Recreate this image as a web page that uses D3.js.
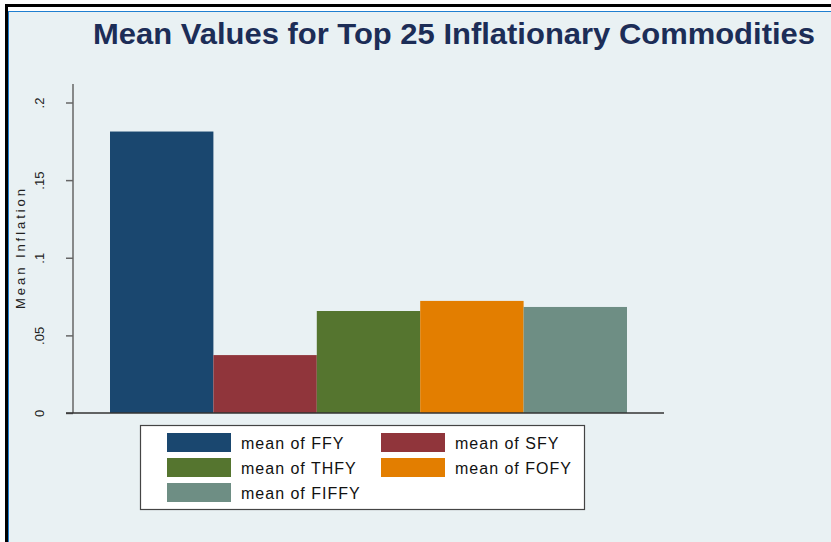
<!DOCTYPE html>
<html><head><meta charset="utf-8">
<script src="https://cdn.jsdelivr.net/npm/d3@7/dist/d3.min.js"></script>
<style>body{margin:0;background:#fff}svg{display:block}</style>
</head><body><svg id="c" width="831" height="542"></svg>
<script>
const series = ["mean of FFY","mean of SFY","mean of THFY","mean of FOFY","mean of FIFFY"];
const values = [0.1813, 0.0373, 0.0657, 0.0722, 0.0683];
const colors = ["#1a476f","#90353b","#55752f","#e37e00","#6e8e84"];
const yTicks = [0, 0.05, 0.1, 0.15, 0.2];
const yTickLabels = ["0", ".05", ".1", ".15", ".2"];
const title = "Mean Values for Top 25 Inflationary Commodities";
const yTitle = "Mean Inflation";

const svg = d3.select("#c");
// frame
svg.append("rect").attr("x",0).attr("y",0).attr("width",831).attr("height",542).attr("fill","#fff");
svg.append("rect").attr("x",5).attr("y",4).attr("width",826).attr("height",538).attr("fill","#000");
svg.append("rect").attr("x",8).attr("y",7).attr("width",823).attr("height",535).attr("fill","#fff");
svg.append("rect").attr("x",8).attr("y",11).attr("width",823).attr("height",531).attr("fill","#1f7fd0");
svg.append("rect").attr("x",9).attr("y",12).attr("width",822).attr("height",530).attr("fill","#e9f1f3");

svg.append("text").attr("x",454).attr("y",44).attr("text-anchor","middle")
  .attr("font-family","Liberation Sans, Arial, sans-serif").attr("font-weight","bold")
  .attr("font-size",30).attr("fill","#1c2d57")
  .attr("textLength",722).attr("lengthAdjust","spacingAndGlyphs").text(title);

const y = d3.scaleLinear().domain([0,0.2]).range([413,102.5]);
const x = d3.scaleBand().domain(series).range([110,627]).paddingInner(0).paddingOuter(0);

svg.selectAll("rect.bar").data(values).join("rect").attr("class","bar")
  .attr("x",(d,i)=>x(series[i])).attr("width",x.bandwidth())
  .attr("y",d=>y(d)).attr("height",d=>y(0)-y(d)).attr("fill",(d,i)=>colors[i]);

// y axis
const ax = svg.append("g").attr("transform","translate(73,0)")
  .call(d3.axisLeft(y).tickValues(yTicks).tickFormat((d,i)=>yTickLabels[i]).tickSize(7).tickPadding(0));
ax.select(".domain").remove();
ax.selectAll(".tick line").attr("stroke","#666").attr("stroke-width",1.5);
ax.selectAll(".tick text").attr("font-family","Liberation Sans, Arial, sans-serif").attr("font-size",13)
  .attr("fill","#222").attr("text-anchor","middle")
  .attr("transform","translate(-34,0) rotate(-90)").attr("x",0).attr("dy","0.35em");
svg.append("line").attr("x1",73).attr("x2",73).attr("y1",84).attr("y2",413).attr("stroke","#666").attr("stroke-width",1.5);
svg.append("line").attr("x1",66).attr("x2",664).attr("y1",413).attr("y2",413).attr("stroke","#333").attr("stroke-width",1.5);

svg.append("text").attr("transform","translate(25,249) rotate(-90)").attr("text-anchor","middle")
  .attr("font-family","Liberation Sans, Arial, sans-serif").attr("font-size",13).attr("fill","#222")
  .attr("textLength",120).attr("lengthAdjust","spacing").text(yTitle);

// legend
svg.append("rect").attr("x",140.5).attr("y",425.5).attr("width",444).attr("height",84).attr("fill","#fff").attr("stroke","#444").attr("stroke-width",1.2);
const lg = svg.append("g");
series.forEach((s,i)=>{
  const col = i%2, row = Math.floor(i/2);
  const sx = col ? 381 : 167, sy = 433 + row*25;
  lg.append("rect").attr("x",sx).attr("y",sy).attr("width",64).attr("height",19).attr("fill",colors[i]);
  lg.append("text").attr("x",sx+74).attr("y",sy+16).attr("font-family","Liberation Sans, Arial, sans-serif")
    .attr("font-size",16).attr("letter-spacing",1).attr("fill","#111").text(s);
});
</script></body></html>
